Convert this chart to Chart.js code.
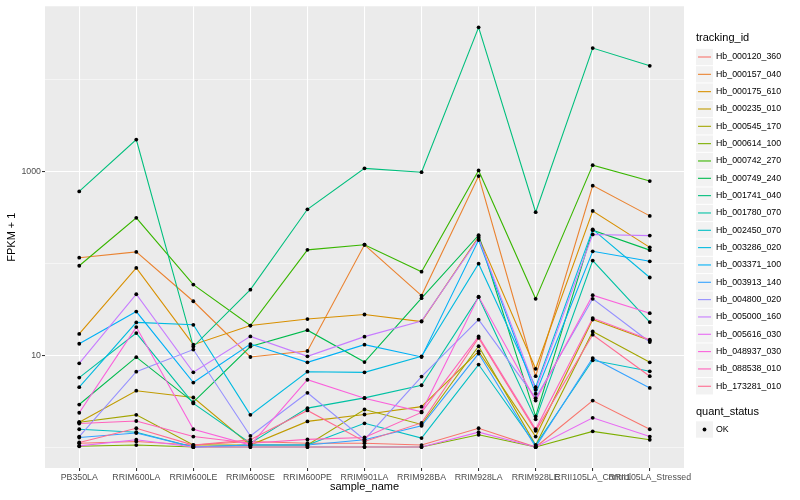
<!DOCTYPE html>
<html>
<head>
<meta charset="utf-8">
<script src="https://cdn.jsdelivr.net/npm/chart.js@4"></script>
<style>
  html, body { margin: 0; padding: 0; background: #fff; }
  #wrap { width: 800px; height: 500px; }
</style>
</head>
<body>
<div id="wrap"><canvas id="myChart"></canvas></div>
<script>
// sample names on the x axis
const categories = ['PB350LA', 'RRIM600LA', 'RRIM600LE', 'RRIM600SE', 'RRIM600PE', 'RRIM901LA',
  'RRIM928BA', 'RRIM928LA', 'RRIM928LE', 'RRII105LA_Control', 'RRII105LA_Stressed'];

const trackingIds = ['Hb_000120_360', 'Hb_000157_040', 'Hb_000175_610', 'Hb_000235_010', 'Hb_000545_170',
  'Hb_000614_100', 'Hb_000742_270', 'Hb_000749_240', 'Hb_001741_040', 'Hb_001780_070',
  'Hb_002450_070', 'Hb_003286_020', 'Hb_003371_100', 'Hb_003913_140', 'Hb_004800_020',
  'Hb_005000_160', 'Hb_005616_030', 'Hb_048937_030', 'Hb_088538_010', 'Hb_173281_010'];

// FPKM + 1, one array per tracking id (same order as categories)
const hb000120 = [1.1, 1.15, 1.05, 1.15, 1.1, 1.1, 1.05, 1.6, 1.0, 3.2, 1.56];
const hb000157 = [115, 133, 38.6, 9.55, 11.1, 159, 44.5, 890, 5.9, 700, 328];
const hb000175 = [17, 89, 13, 21, 24.7, 27.7, 23.2, 194, 7.1, 371, 149];
const hb000235 = [1.86, 4.1, 3.46, 1.05, 1.9, 2.26, 2.75, 11.0, 1.3, 24.4, 14.4];
const hb000545 = [1.86, 2.24, 1.05, 1.05, 1.05, 2.56, 1.76, 12.5, 1.05, 18.1, 8.35];
const hb000614 = [1.02, 1.05, 1.0, 1.0, 1.0, 1.0, 1.0, 1.36, 1.0, 1.48, 1.2];
const hb000742 = [94, 312, 58.6, 21, 140, 159, 81, 1024, 41, 1170, 785];
const hb000749 = [2.9, 9.5, 3.08, 12.4, 18.7, 8.4, 41.7, 202, 2.15, 229, 139];
const hb001741 = [605, 2222, 12.4, 51.6, 387, 1080, 980, 37000, 360, 22000, 14100];
const hb001780 = [5.7, 17.4, 2.98, 1.1, 2.65, 3.43, 4.7, 42.7, 2.0, 107, 22.9];
const hb002450 = [1.56, 1.45, 1.0, 1.05, 1.05, 1.81, 1.25, 7.9, 1.05, 8.8, 6.67];
const hb003286 = [4.48, 22.7, 21.4, 2.24, 6.6, 6.5, 9.7, 99, 4.48, 234, 70];
const hb003371 = [13.3, 29.8, 5.03, 13.2, 8.35, 13, 9.55, 179, 3.8, 135, 105];
const hb003913 = [1.27, 1.42, 1.0, 1.05, 1.05, 1.2, 1.7, 10.4, 1.0, 9.3, 4.4];
const hb004800 = [1.3, 6.6, 11.5, 1.32, 3.89, 1.2, 5.85, 24.3, 3.4, 41, 13.9];
const hb005000 = [8.15, 46, 6.5, 16, 9.7, 15.9, 23.5, 188, 4.2, 206, 200];
const hb005616 = [1.03, 1.2, 1.0, 1.0, 1.0, 1.0, 1.0, 1.45, 1.0, 2.08, 1.3];
const hb048937 = [2.36, 20.2, 1.56, 1.05, 5.4, 3.4, 2.42, 43.4, 3.2, 44.9, 28.6];
const hb088538 = [1.8, 1.92, 1.3, 1.1, 1.21, 1.27, 2.38, 16, 1.56, 25.3, 14.7];
const hb173281 = [1.12, 1.6, 1.05, 1.2, 2.5, 1.15, 1.83, 15.4, 1.5, 16.7, 5.9];

const series = [hb000120, hb000157, hb000175, hb000235, hb000545, hb000614, hb000742, hb000749,
  hb001741, hb001780, hb002450, hb003286, hb003371, hb003913, hb004800, hb005000,
  hb005616, hb048937, hb088538, hb173281];

// ggplot default hue palette for 20 groups
const colors = ['#F8766D', '#EA8331', '#D89000', '#C09B00', '#A3A500', '#7CAE00', '#39B600', '#00BB4E',
  '#00BF7D', '#00C1A3', '#00BFC4', '#00BAE0', '#00B0F6', '#35A2FF', '#9590FF', '#C77CFF',
  '#E76BF3', '#FA62DB', '#FF62BC', '#FF6C91'];

const yTicks = [1, 10, 100, 1000, 10000];
const yLabelled = [10, 1000];

const toPoints = vals => vals.map((v, i) => ({ x: i, y: v }));

// lines first (ggplot draws group 1 at the bottom), black points on top of all lines
const lineSets = series.map((vals, k) => ({
  label: trackingIds[k],
  data: toPoints(vals),
  borderColor: colors[k],
  backgroundColor: colors[k],
  borderWidth: 1.1,
  pointRadius: 0,
  fill: false,
  tension: 0,
  order: 100 - k
}));

const pointSets = series.map((vals, k) => ({
  label: trackingIds[k] + ' OK',
  data: toPoints(vals),
  showLine: false,
  borderColor: '#000',
  pointRadius: 1.9,
  pointBackgroundColor: '#000',
  pointBorderWidth: 0,
  order: 0
}));

Chart.defaults.font.family = '"Liberation Sans", Arial, Helvetica, sans-serif';

const panelBg = {
  id: 'panelBg',
  beforeDraw(chart) {
    const { ctx, chartArea: a } = chart;
    ctx.save();
    ctx.fillStyle = '#EBEBEB';
    ctx.fillRect(a.left, a.top, a.right - a.left, a.bottom - a.top);
    ctx.restore();
  }
};

const ggLegend = {
  id: 'ggLegend',
  afterDraw(chart) {
    const ctx = chart.ctx;
    const x0 = 696, keyW = 17, step = 17.33, y0 = 57;
    ctx.save();
    ctx.textBaseline = 'middle';
    ctx.fillStyle = '#000';
    ctx.font = '11px "Liberation Sans", Arial, sans-serif';
    ctx.fillText('tracking_id', x0, 38);
    ctx.font = '8.8px "Liberation Sans", Arial, sans-serif';
    trackingIds.forEach((id, k) => {
      const cy = y0 + k * step;
      ctx.fillStyle = '#F2F2F2';
      ctx.fillRect(x0, cy - step / 2 + 0.5, keyW, step - 1);
      ctx.strokeStyle = colors[k];
      ctx.lineWidth = 1.1;
      ctx.beginPath();
      ctx.moveTo(x0 + 2, cy);
      ctx.lineTo(x0 + keyW - 2, cy);
      ctx.stroke();
      ctx.fillStyle = '#000';
      ctx.fillText(id, x0 + keyW + 3, cy);
    });
    ctx.font = '11px "Liberation Sans", Arial, sans-serif';
    ctx.fillText('quant_status', x0, 412);
    const okY = 429.5;
    ctx.fillStyle = '#F2F2F2';
    ctx.fillRect(x0, okY - step / 2 + 0.5, keyW, step - 1);
    ctx.fillStyle = '#000';
    ctx.beginPath();
    ctx.arc(x0 + keyW / 2, okY, 1.9, 0, Math.PI * 2);
    ctx.fill();
    ctx.font = '8.8px "Liberation Sans", Arial, sans-serif';
    ctx.fillText('OK', x0 + keyW + 3, okY);
    ctx.restore();
  }
};

new Chart(document.getElementById('myChart'), {
  type: 'line',
  data: { datasets: [...lineSets, ...pointSets] },
  options: {
    responsive: true,
    maintainAspectRatio: false,
    animation: false,
    layout: { padding: { left: 0, top: 5, right: 116, bottom: 0 } },
    plugins: {
      legend: { display: false },
      tooltip: { enabled: false }
    },
    scales: {
      x: {
        type: 'linear',
        min: -0.6,
        max: 10.6,
        afterBuildTicks: scale => { scale.ticks = categories.map((c, i) => ({ value: i })); },
        afterFit: scale => { scale.height = 32; },
        ticks: {
          autoSkip: false,
          maxRotation: 0,
          minRotation: 0,
          padding: 1,
          color: '#4D4D4D',
          font: { size: 8.8 },
          callback: (v, i) => categories[i]
        },
        grid: { color: '#FFFFFF', lineWidth: 1.07, tickLength: 3, tickColor: '#333333' },
        border: { display: false },
        title: {
          display: true,
          text: 'sample_name',
          color: '#000',
          font: { size: 11 },
          padding: { top: 0, bottom: 6 }
        }
      },
      y: {
        type: 'logarithmic',
        min: 0.591,
        max: 62700,
        afterBuildTicks: scale => { scale.ticks = yTicks.map(v => ({ value: v })); },
        afterFit: scale => { scale.width = 45; },
        ticks: {
          padding: 1,
          color: '#4D4D4D',
          font: { size: 8.8 },
          callback: v => (yLabelled.includes(v) ? String(v) : '')
        },
        grid: {
          color: '#FFFFFF',
          lineWidth: c => (c.tick && yLabelled.includes(c.tick.value) ? 1.07 : 0.53),
          tickLength: 3,
          tickColor: c => (c.tick && yLabelled.includes(c.tick.value) ? '#333333' : 'rgba(0,0,0,0)')
        },
        border: { display: false },
        title: {
          display: true,
          text: 'FPKM + 1',
          color: '#000',
          font: { size: 11 },
          padding: { top: 5, bottom: 0 }
        }
      }
    }
  },
  plugins: [panelBg, ggLegend]
});
</script>
</body>
</html>
